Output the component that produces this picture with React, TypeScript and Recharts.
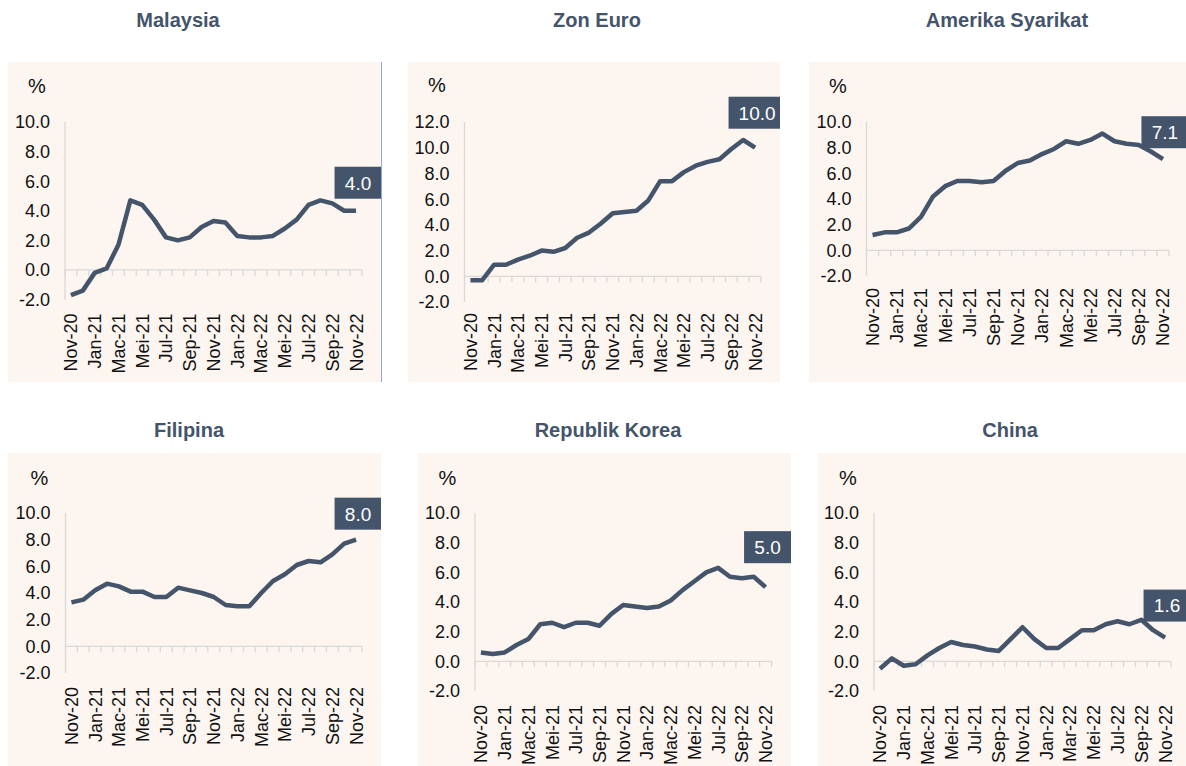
import React from 'react';
import { LineChart, Line, XAxis, YAxis, ReferenceLine, ReferenceDot } from 'recharts';

// months Nov-20 .. Nov-22 (Malay abbreviations)
const months = [
  'Nov-20', 'Dis-20', 'Jan-21', 'Feb-21', 'Mac-21', 'Apr-21', 'Mei-21', 'Jun-21', 'Jul-21', 'Ogo-21', 'Sep-21', 'Okt-21',
  'Nov-21', 'Dis-21', 'Jan-22', 'Feb-22', 'Mac-22', 'Apr-22', 'Mei-22', 'Jun-22', 'Jul-22', 'Ogo-22', 'Sep-22', 'Okt-22', 'Nov-22',
];
// China panel labels Mar-22 instead of Mac-22
const monthsChina = [
  'Nov-20', 'Dis-20', 'Jan-21', 'Feb-21', 'Mac-21', 'Apr-21', 'Mei-21', 'Jun-21', 'Jul-21', 'Ogo-21', 'Sep-21', 'Okt-21',
  'Nov-21', 'Dis-21', 'Jan-22', 'Feb-22', 'Mar-22', 'Apr-22', 'Mei-22', 'Jun-22', 'Jul-22', 'Ogo-22', 'Sep-22', 'Okt-22', 'Nov-22',
];

const malaysia = [-1.7, -1.4, -0.2, 0.1, 1.7, 4.7, 4.4, 3.4, 2.2, 2.0, 2.2, 2.9, 3.3, 3.2, 2.3, 2.2, 2.2, 2.3, 2.8, 3.4, 4.4, 4.7, 4.5, 4.0, 4.0];
const zonEuro = [-0.3, -0.3, 0.9, 0.9, 1.3, 1.6, 2.0, 1.9, 2.2, 3.0, 3.4, 4.1, 4.9, 5.0, 5.1, 5.9, 7.4, 7.4, 8.1, 8.6, 8.9, 9.1, 9.9, 10.6, 10.0];
const amerika = [1.2, 1.4, 1.4, 1.7, 2.6, 4.2, 5.0, 5.4, 5.4, 5.3, 5.4, 6.2, 6.8, 7.0, 7.5, 7.9, 8.5, 8.3, 8.6, 9.1, 8.5, 8.3, 8.2, 7.7, 7.1];
const filipina = [3.3, 3.5, 4.2, 4.7, 4.5, 4.1, 4.1, 3.7, 3.7, 4.4, 4.2, 4.0, 3.7, 3.1, 3.0, 3.0, 4.0, 4.9, 5.4, 6.1, 6.4, 6.3, 6.9, 7.7, 8.0];
const korea = [0.6, 0.5, 0.6, 1.1, 1.5, 2.5, 2.6, 2.3, 2.6, 2.6, 2.4, 3.2, 3.8, 3.7, 3.6, 3.7, 4.1, 4.8, 5.4, 6.0, 6.3, 5.7, 5.6, 5.7, 5.0];
const china = [-0.5, 0.2, -0.3, -0.2, 0.4, 0.9, 1.3, 1.1, 1.0, 0.8, 0.7, 1.5, 2.3, 1.5, 0.9, 0.9, 1.5, 2.1, 2.1, 2.5, 2.7, 2.5, 2.8, 2.1, 1.6];

const ticks10 = [-2, 0, 2, 4, 6, 8, 10];
const ticks12 = [-2, 0, 2, 4, 6, 8, 10, 12];

const INK = '#44546A';
const AXIS = '#D9D9D9';
const BG = '#FCF5F0';
const TEXT = '#111';
const FONT = "'Liberation Sans', Arial, sans-serif";

const panels = [
  { title: 'Malaysia', values: malaysia, cats: months, yTicks: ticks10, box: { x: 8, y: 62, w: 373, h: 320 }, plot: { l: 65, r: 362, t: 122, b: 299.5 }, pct: [37, 93], head: [178, 27], badgeGap: 12, xGap: 14 },
  { title: 'Zon Euro', values: zonEuro, cats: months, yTicks: ticks12, box: { x: 408, y: 62, w: 372, h: 320 }, plot: { l: 464.5, r: 761, t: 122, b: 302 }, pct: [437, 92], head: [597, 27], badgeGap: 19, xGap: 11 },
  { title: 'Amerika Syarikat', values: amerika, cats: months, yTicks: ticks10, box: { x: 809, y: 62, w: 377, h: 320 }, plot: { l: 866.5, r: 1169, t: 122, b: 276 }, pct: [838, 93], head: [1007, 27], badgeGap: 11, xGap: 12 },
  { title: 'Filipina', values: filipina, cats: months, yTicks: ticks10, box: { x: 8, y: 453, w: 373, h: 313 }, plot: { l: 65.5, r: 362, t: 513, b: 673 }, pct: [39.5, 485], head: [189, 437], badgeGap: 10, xGap: 14 },
  { title: 'Republik Korea', values: korea, cats: months, yTicks: ticks10, box: { x: 418, y: 453, w: 373, h: 313 }, plot: { l: 475, r: 771.5, t: 513, b: 691 }, pct: [447.5, 485], head: [608, 437], badgeGap: 24, xGap: 14 },
  { title: 'China', values: china, cats: monthsChina, yTicks: ticks10, box: { x: 818, y: 453, w: 368, h: 313 }, plot: { l: 874, r: 1171, t: 513, b: 691 }, pct: [848, 485], head: [1010, 437], badgeGap: 16, xGap: 14 },
];

const XTick = (props: any) => {
  const { x, y, payload } = props;
  return (
    <text
      x={x}
      y={y}
      dy="0.36em"
      transform={`rotate(-90, ${x}, ${y})`}
      textAnchor="end"
      fontSize={18}
      fill={TEXT}
    >
      {payload.value}
    </text>
  );
};

const tickMark = (p: any) => (
  <line x1={p.x1} y1={p.y1} x2={p.x1} y2={p.y1 + 6} stroke={AXIS} strokeWidth={1.3} />
);

function Panel({ p }: { p: (typeof panels)[number] }) {
  const data = p.cats.map((m, i) => ({ m, v: p.values[i] }));
  const last = data[data.length - 1];
  const top = p.yTicks[p.yTicks.length - 1];

  const badge = (props: any) => {
    const text = last.v.toFixed(1);
    const w = text.length > 3 ? 57 : 47;
    const h = 32;
    const cx = props.cx + 2;
    const bottom = props.cy - p.badgeGap;
    return (
      <g>
        <rect x={cx - w / 2} y={bottom - h} width={w} height={h} fill={INK} />
        <text x={cx} y={bottom - h / 2} dy="0.36em" textAnchor="middle" fill="#fff" fontSize={19}>
          {text}
        </text>
      </g>
    );
  };

  return (
    <div style={{ position: 'absolute', left: p.box.x, top: p.box.y, width: p.box.w, height: p.box.h, background: BG }}>
      <LineChart
        width={p.box.w}
        height={p.box.h}
        data={data}
        margin={{ top: p.plot.t - p.box.y, right: p.box.x + p.box.w - p.plot.r, bottom: 0, left: 0 }}
      >
        <XAxis
          dataKey="m"
          scale="band"
          interval={1}
          axisLine={false}
          tickLine={false}
          tickSize={0}
          tickMargin={p.xGap}
          height={p.box.y + p.box.h - p.plot.b}
          tick={<XTick />}
        />
        <YAxis
          domain={[-2, top]}
          ticks={p.yTicks}
          interval={0}
          width={p.plot.l - p.box.x}
          axisLine={{ stroke: AXIS, strokeWidth: 1.3 }}
          tickLine={false}
          tickSize={0}
          tickMargin={15}
          tickFormatter={(v: number) => v.toFixed(1)}
          tick={{ fill: TEXT, fontSize: 18 }}
        />
        <ReferenceLine y={0} stroke={AXIS} strokeWidth={1.3} />
        {p.cats.map((c) => (
          <ReferenceLine
            key={c}
            segment={[{ x: c, y: 0 }, { x: c, y: 0 }]}
            position="start"
            ifOverflow="visible"
            shape={tickMark}
          />
        ))}
        <ReferenceLine
          segment={[{ x: last.m, y: 0 }, { x: last.m, y: 0 }]}
          position="end"
          ifOverflow="visible"
          shape={tickMark}
        />
        <Line
          type="linear"
          dataKey="v"
          stroke={INK}
          strokeWidth={4.5}
          strokeLinejoin="round"
          dot={false}
          activeDot={false}
          isAnimationActive={false}
        />
        <ReferenceDot x={last.m} y={last.v} ifOverflow="visible" shape={badge} />
      </LineChart>
    </div>
  );
}

export default function App() {
  return (
    <div style={{ position: 'absolute', left: 0, top: 0, width: 1186, height: 766, background: '#fff', fontFamily: FONT }}>
      {panels.map((p) => (
        <Panel key={p.title} p={p} />
      ))}
      <div style={{ position: 'absolute', left: 381, top: 62, width: 1, height: 320, background: '#8FAADC' }} />
      <svg width={1186} height={766} style={{ position: 'absolute', left: 0, top: 0, pointerEvents: 'none' }}>
        {panels.map((p) => (
          <g key={p.title}>
            <text x={p.head[0]} y={p.head[1]} textAnchor="middle" fontSize={20} fontWeight="bold" fill={INK}>
              {p.title}
            </text>
            <text x={p.pct[0]} y={p.pct[1]} textAnchor="middle" fontSize={20} fill={TEXT}>
              %
            </text>
          </g>
        ))}
      </svg>
    </div>
  );
}
